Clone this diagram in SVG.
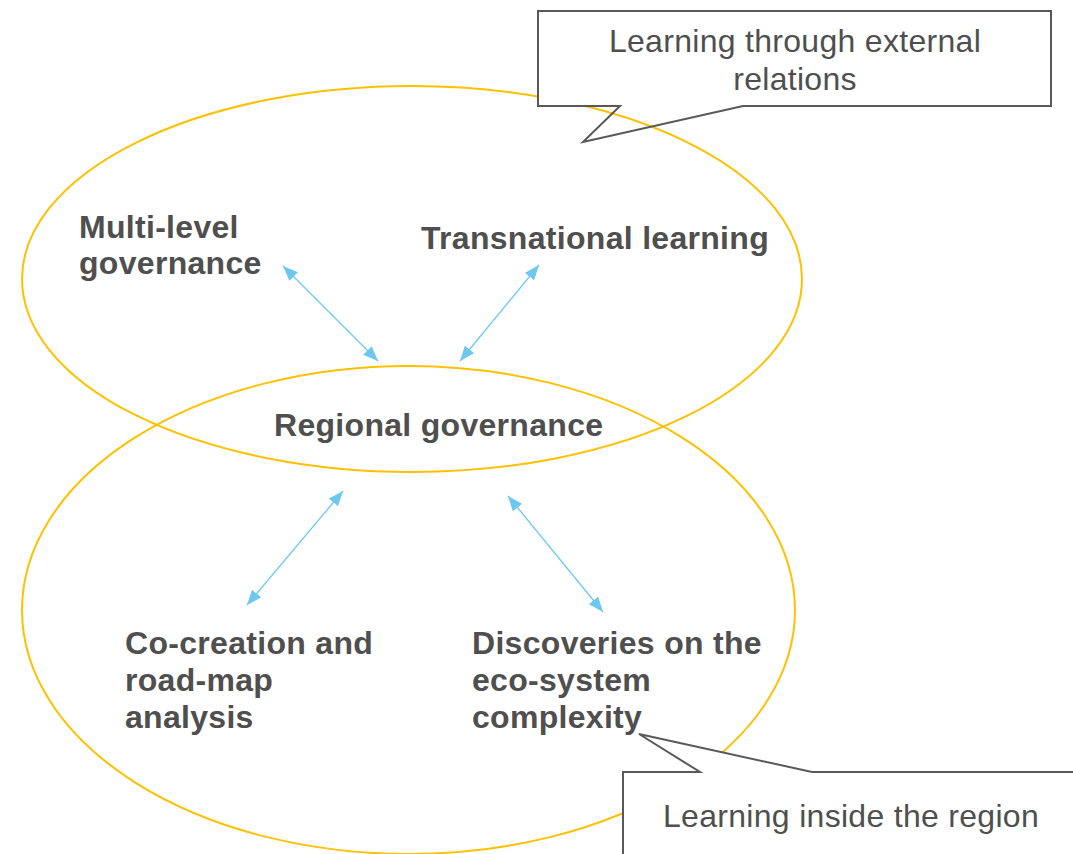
<svg xmlns="http://www.w3.org/2000/svg" width="1073" height="854" viewBox="0 0 1073 854">
<style>
.ell{fill:none;stroke:#FFC000;stroke-width:2}
.lbl{font-family:"Liberation Sans",Arial,sans-serif;font-size:32px;font-weight:bold;fill:#4F4F4F;letter-spacing:0.3px}
.call{font-family:"Liberation Sans",Arial,sans-serif;font-size:32px;fill:#4F4F4F;letter-spacing:0.3px}
.box{stroke:#595959;stroke-width:2}
.arr{stroke:#6DC8EF;stroke-width:1.3;fill:none;marker-start:url(#ah);marker-end:url(#ah)}
</style>
<defs>
<marker id="ah" viewBox="0 0 15 12" refX="15" refY="6" markerWidth="15" markerHeight="12" markerUnits="userSpaceOnUse" orient="auto-start-reverse">
<path d="M0,0 L15,6 L0,12 Z" fill="#6DC8EF"/>
</marker>
</defs>
<rect width="1073" height="854" fill="#FFFFFF"/>
<g id="ellipses">
<ellipse id="outer-top" class="ell" cx="412" cy="279" rx="390" ry="193"/>
<ellipse id="outer-bottom" class="ell" cx="408.5" cy="610" rx="386.5" ry="244"/>
</g>
<g id="callout-external">
<rect x="538" y="11" width="513" height="95" fill="#FFFFFF"/>
<path class="box" fill="none" d="M538,11 H1051 V106 H743 L583,142 L620,106 H538 Z"/>
<text class="call" text-anchor="middle" x="795" y="52">Learning through external</text>
<text class="call" text-anchor="middle" x="795" y="90">relations</text>
</g>
<g id="callout-inside">
<path class="box" fill="#FFFFFF" d="M623,772 H700 L639,734 L812,772 H1076 V857 H623 Z"/>
<text class="call" x="663" y="827">Learning inside the region</text>
</g>
<g id="node-multilevel">
<text class="lbl" x="79" y="238">Multi-level</text>
<text class="lbl" x="79" y="274">governance</text>
</g>
<g id="node-transnational">
<text class="lbl" x="421" y="249">Transnational learning</text>
</g>
<g id="node-regional">
<text class="lbl" x="274" y="436">Regional governance</text>
</g>
<g id="node-cocreation">
<text class="lbl" x="125" y="654">Co-creation and</text>
<text class="lbl" x="125" y="691">road-map</text>
<text class="lbl" x="125" y="728">analysis</text>
</g>
<g id="node-discoveries">
<text class="lbl" x="472" y="654">Discoveries on the</text>
<text class="lbl" x="472" y="691">eco-system</text>
<text class="lbl" x="472" y="728">complexity</text>
</g>
<g id="connectors">
<line class="arr" x1="283" y1="266" x2="378" y2="361"/>
<line class="arr" x1="539" y1="265" x2="460" y2="361"/>
<line class="arr" x1="343" y1="491" x2="247" y2="605"/>
<line class="arr" x1="508" y1="496" x2="603" y2="612"/>
</g>
</svg>
